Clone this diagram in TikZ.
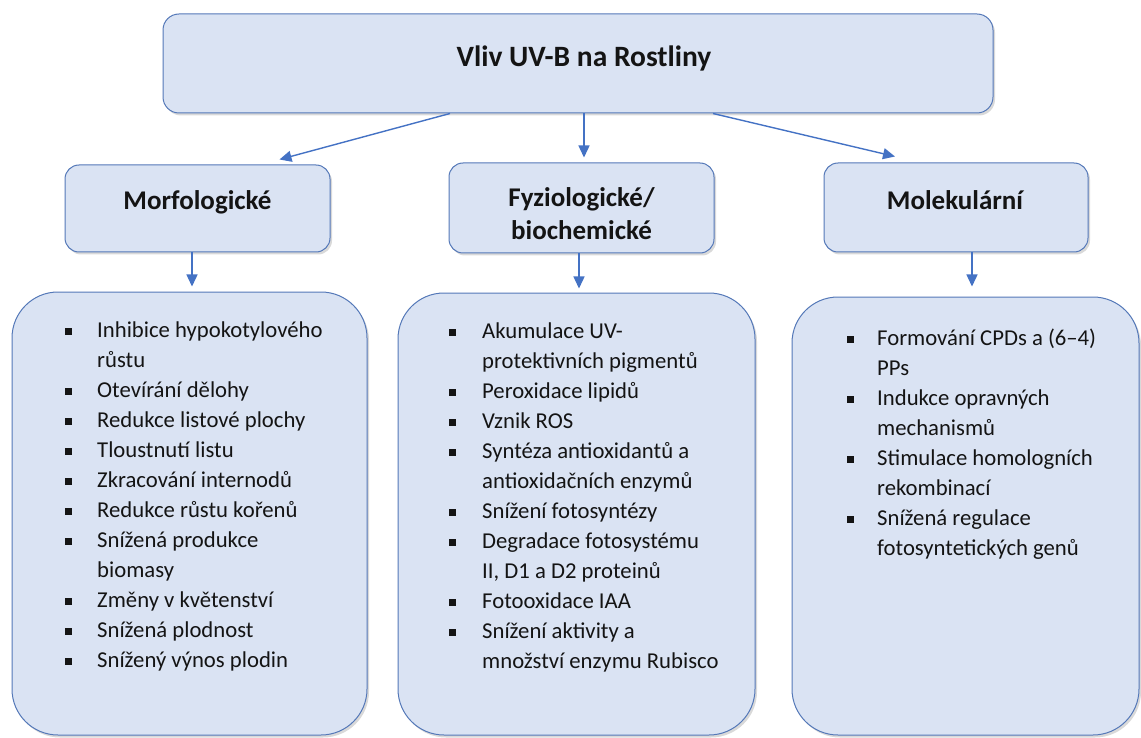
\documentclass[tikz,border=0pt]{standalone}
\usepackage{fontspec}
\setmainfont{Carlito}
\usetikzlibrary{arrows.meta,shadows,calc}
\definecolor{boxfill}{HTML}{DAE3F3}
\definecolor{boxline}{HTML}{5478B8}
\definecolor{arrowc}{HTML}{4472C4}
\definecolor{txt}{HTML}{141414}
\newcommand\bsq{\rule[1.9pt]{7pt}{7pt}}
\begin{document}
\begin{tikzpicture}[x=1pt,y=-1pt,
  box/.style={draw=boxline, line width=1pt, fill=boxfill, rounded corners=#1,
    drop shadow={shadow xshift=2pt, shadow yshift=-2.5pt, opacity=0.3}},
  head/.style={font=\fontsize{27}{33}\selectfont\bfseries, text=txt, inner sep=0pt},
  list/.style={font=\fontsize{22.7}{30}\selectfont, text=txt, inner sep=0pt, anchor=north west},
  arr/.style={draw=arrowc, line width=1.4pt, -{Triangle[length=12pt,width=11pt]}}
]
\useasboundingbox (0,0) rectangle (1141,738);
% boxes
\node[box=16pt, minimum width=830pt, minimum height=99pt] (top) at (578,63.5) {};
\node[box=14pt, minimum width=265pt, minimum height=87pt] (morf) at (197.5,208.5) {};
\node[box=14pt, minimum width=265pt, minimum height=90pt] (fyz) at (581.5,208) {};
\node[box=14pt, minimum width=264pt, minimum height=89pt] (mol) at (956,207.5) {};
\node[box=46pt, minimum width=355pt, minimum height=443pt] (lst) at (189.5,513.5) {};
\node[box=46pt, minimum width=357pt, minimum height=442pt] (mst) at (576.5,514) {};
\node[box=46pt, minimum width=347pt, minimum height=438pt] (rst) at (965.5,516) {};
% headings
\node[head, font=\fontsize{29.5}{33}\selectfont\bfseries] (toptext) at (584,58) {Vliv UV-B na Rostliny};
\node[head] (morftext) at (197.5,202) {Morfologické};
\node[head, align=center] (fyztext) at (581.5,213.5) {Fyziologické/\\biochemické};
\node[head] (moltext) at (955,200) {Molekulární};
% arrows
\draw[arr] ($(top.south)+(-128,0)$) -- ($(morf.north)+(82,-5)$);
\draw[arr] ($(top.south)+(6,0)$) -- ($(fyz.north)+(2.5,-5)$);
\draw[arr] ($(top.south)+(135,0)$) -- ($(mol.north)+(-61,-6)$);
\draw[arr] ($(morf.south)+(-5.5,0)$) -- ($(lst.north)+(2.5,-5)$);
\draw[arr] ($(fyz.south)+(-2.5,0)$) -- ($(mst.north)+(2.5,-4)$);
\draw[arr] ($(mol.south)+(16,0)$) -- ($(rst.north)+(6.5,-10)$);
% lists
\node[list] (l1) at (65,316) {\begin{tabular}{@{}p{32pt}@{}l@{}}
\bsq & Inhibice hypokotylového\\
 & růstu\\
\bsq & Otevírání dělohy\\
\bsq & Redukce listové plochy\\
\bsq & Tloustnutí listu\\
\bsq & Zkracování internodů\\
\bsq & Redukce růstu kořenů\\
\bsq & Snížená produkce\\
 & biomasy\\
\bsq & Změny v květenství\\
\bsq & Snížená plodnost\\
\bsq & Snížený výnos plodin
\end{tabular}};
\node[list] (l2) at (449,317) {\begin{tabular}{@{}p{33pt}@{}l@{}}
\bsq & Akumulace UV-\\
 & protektivních pigmentů\\
\bsq & Peroxidace lipidů\\
\bsq & Vznik ROS\\
\bsq & Syntéza antioxidantů a\\
 & antioxidačních enzymů\\
\bsq & Snížení fotosyntézy\\
\bsq & Degradace fotosystému\\
 & II, D1 a D2 proteinů\\
\bsq & Fotooxidace IAA\\
\bsq & Snížení aktivity a\\
 & množství enzymu Rubisco
\end{tabular}};
\node[list] (l3) at (847,324) {\begin{tabular}{@{}p{30pt}@{}l@{}}
\bsq & Formování CPDs a (6–4)\\
 & PPs\\
\bsq & Indukce opravných\\
 & mechanismů\\
\bsq & Stimulace homologních\\
 & rekombinací\\
\bsq & Snížená regulace\\
 & fotosyntetických genů
\end{tabular}};
\end{tikzpicture}
\end{document}
